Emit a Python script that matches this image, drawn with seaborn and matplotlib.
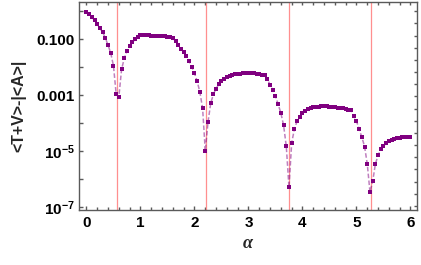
import numpy as np
import pandas as pd
import matplotlib
matplotlib.use('Agg')
import matplotlib.pyplot as plt
from matplotlib.ticker import FixedLocator, NullLocator, NullFormatter
import seaborn as sns

# 采样点 alpha
alpha = [0.00, 0.05, 0.10, 0.15, 0.20, 0.25, 0.30, 0.35, 0.40, 0.45,
         0.50, 0.55, 0.60, 0.65, 0.70, 0.75, 0.80, 0.85, 0.90, 0.95,
         1.00, 1.05, 1.10, 1.15, 1.20, 1.25, 1.30, 1.35, 1.40, 1.45,
         1.50, 1.55, 1.60, 1.65, 1.70, 1.75, 1.80, 1.85, 1.90, 1.95,
         2.00, 2.05, 2.10, 2.15, 2.20, 2.25, 2.30, 2.35, 2.40, 2.45,
         2.50, 2.55, 2.60, 2.65, 2.70, 2.75, 2.80, 2.85, 2.90, 2.95,
         3.00, 3.05, 3.10, 3.15, 3.20, 3.25, 3.30, 3.35, 3.40, 3.45,
         3.50, 3.55, 3.60, 3.65, 3.70, 3.75, 3.80, 3.85, 3.90, 3.95,
         4.00, 4.05, 4.10, 4.15, 4.20, 4.25, 4.30, 4.35, 4.40, 4.45,
         4.50, 4.55, 4.60, 4.65, 4.70, 4.75, 4.80, 4.85, 4.90, 4.95,
         5.00, 5.05, 5.10, 5.15, 5.20, 5.25, 5.30, 5.35, 5.40, 5.45,
         5.50, 5.55, 5.60, 5.65, 5.70, 5.75, 5.80, 5.85, 5.90, 5.95,
         6.00]

# log10(<T+V> - |<A>|)
log_diff = [-0.04, -0.11, -0.21, -0.32, -0.46, -0.61, -0.75, -0.96, -1.21, -1.50,
            -1.95, -2.96, -3.05, -2.07, -1.68, -1.42, -1.25, -1.11, -1.00, -0.91,
            -0.85, -0.83, -0.85, -0.86, -0.87, -0.87, -0.87, -0.88, -0.89, -0.89,
            -0.90, -0.91, -0.96, -1.07, -1.20, -1.34, -1.46, -1.61, -1.79, -1.99,
            -2.21, -2.50, -2.89, -3.46, -4.99, -3.96, -3.29, -2.96, -2.76, -2.61,
            -2.50, -2.43, -2.36, -2.31, -2.29, -2.25, -2.24, -2.23, -2.22, -2.21,
            -2.21, -2.22, -2.22, -2.23, -2.24, -2.26, -2.29, -2.43, -2.62, -2.82,
            -3.04, -3.32, -3.64, -4.07, -4.82, -6.29, -4.69, -4.21, -3.92, -3.78,
            -3.64, -3.56, -3.49, -3.44, -3.42, -3.41, -3.40, -3.39, -3.39, -3.39,
            -3.40, -3.41, -3.43, -3.44, -3.45, -3.47, -3.49, -3.51, -3.53, -3.74,
            -3.92, -4.21, -4.50, -4.83, -5.46, -6.46, -6.07, -5.45, -5.14, -4.93,
            -4.81, -4.71, -4.64, -4.60, -4.55, -4.53, -4.51, -4.50, -4.49, -4.48,
            -4.48]

# 竖线位置
vlines = [0.571, 2.215, 3.756, 5.274]

# 左侧刻度：每个数量级一个，只标注部分
ytick_exps = [0, 1, 2, 3, 4, 5, 6, 7]
ytick_labels = ['', '0.100', '', '0.001', '', r'$\mathbf{10^{-5}}$', '', r'$\mathbf{10^{-7}}$']
xtick_vals = [0, 1, 2, 3, 4, 5, 6]

sns.set_style('ticks')
plt.rcParams['font.family'] = ['Liberation Sans', 'DejaVu Sans']
plt.rcParams['mathtext.fontset'] = 'custom'
plt.rcParams['mathtext.bf'] = 'Liberation Sans:bold'
plt.rcParams['mathtext.rm'] = 'Liberation Sans:bold'

df = pd.DataFrame({'alpha': alpha, 'val': 10 ** np.array(log_diff)})

fig = plt.figure(figsize=(4.21, 2.65), dpi=100)
ax = fig.add_axes([0.1876, 0.2075, 0.8022, 0.7861])

for v in vlines:
    ax.axvline(v, color='#ff8f8f', lw=0.9, zorder=1)

sns.lineplot(data=df, x='alpha', y='val', ax=ax, color='#800080', alpha=0.5,
             lw=1.1, linestyle=(0, (3, 1.5)), zorder=2)
sns.scatterplot(data=df, x='alpha', y='val', ax=ax, color='#800080', marker='s',
                s=9, linewidth=0, zorder=3)

ax.set_yscale('log')
ax.set_xlim(-0.139, 6.115)
ax.set_ylim(10 ** -7.096, 10 ** 0.343)

gray = '#5a5a5a'
for s in ax.spines.values():
    s.set_color(gray)
    s.set_linewidth(1.0)
    s.set_visible(True)

ax.set_yticks([10.0 ** -k for k in ytick_exps])
ax.set_yticklabels(ytick_labels)
ax.yaxis.set_minor_locator(NullLocator())
ax.set_xticks(xtick_vals)
ax.set_xticklabels([str(t) for t in xtick_vals])
ax.xaxis.set_minor_locator(FixedLocator([i * 0.2 for i in range(0, 31)]))

ax.tick_params(axis='both', which='major', direction='in', color=gray, width=1.0,
               labelsize=11, labelcolor='black')
ax.tick_params(axis='y', which='major', length=3.0, pad=3)
ax.tick_params(axis='x', which='major', length=3.0, pad=4)
ax.tick_params(axis='x', which='minor', direction='in', length=2.0, color=gray, width=1.0)
for lab in ax.get_xticklabels() + ax.get_yticklabels():
    lab.set_fontweight('bold')

# 上边框与右边框刻度
top = ax.secondary_xaxis('top')
top.set_xticks([i * 0.2 for i in range(0, 31)])
top.xaxis.set_major_formatter(NullFormatter())
top.tick_params(direction='in', length=2.5, color=gray, width=1.0)
top.spines['top'].set_visible(False)

right = ax.secondary_yaxis('right')
right.set_yticks([np.exp(-k) for k in range(0, 17)])
right.yaxis.set_major_formatter(NullFormatter())
right.yaxis.set_minor_locator(NullLocator())
right.tick_params(direction='in', length=2.5, color=gray, width=1.0)
right.spines['right'].set_visible(False)

ax.set_xlabel('α', fontsize=13, fontstyle='italic', fontweight='bold',
              family=['Liberation Serif'], labelpad=4)
ax.set_ylabel('<T+V>-|<A>|', fontsize=11.5, fontweight='bold', labelpad=7)

fig.savefig('out.png', dpi=100)
